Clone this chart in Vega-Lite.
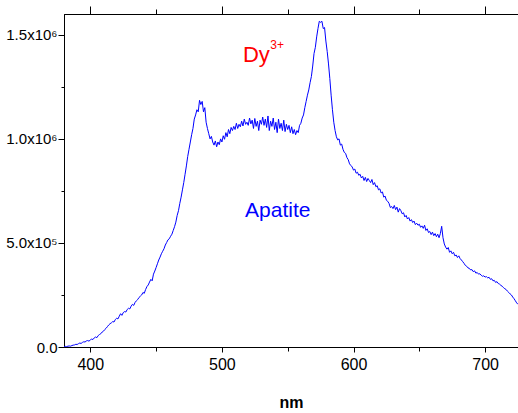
{
  "$schema": "https://vega.github.io/schema/vega-lite/v6.json",
  "width": 454,
  "height": 333,
  "autosize": "none",
  "padding": {"left": 64, "top": 14, "right": 0, "bottom": 66},
  "background": "white",
  "config": {
    "view": {"stroke": "black", "strokeWidth": 1},
    "axis": {
      "labelFont": "Liberation Sans",
      "titleFont": "Liberation Sans",
      "domainColor": "black",
      "tickColor": "black",
      "labelColor": "black",
      "titleColor": "black",
      "grid": false,
      "domainWidth": 1,
      "tickWidth": 1
    }
  },
  "datasets": {
    "spectrum": [
      {"nm":380,"v":1000},{"nm":381,"v":3000},{"nm":382,"v":2000},{"nm":383,"v":4000},{"nm":384,"v":5000},
      {"nm":385,"v":4000},{"nm":386,"v":7000},{"nm":387,"v":9000},{"nm":388,"v":10000},{"nm":389,"v":13000},
      {"nm":390,"v":12000},{"nm":391,"v":16000},{"nm":392,"v":19000},{"nm":393,"v":17000},{"nm":394,"v":22000},
      {"nm":395,"v":25000},{"nm":396,"v":24000},{"nm":397,"v":29000},{"nm":398,"v":31000},{"nm":399,"v":28000},
      {"nm":400,"v":34000},{"nm":401,"v":38000},{"nm":402,"v":36000},{"nm":403,"v":44000},{"nm":404,"v":48000},
      {"nm":405,"v":45000},{"nm":406,"v":55000},{"nm":407,"v":60000},{"nm":408,"v":64000},{"nm":409,"v":72000},
      {"nm":410,"v":76000},{"nm":411,"v":84000},{"nm":412,"v":90000},{"nm":413,"v":98000},{"nm":414,"v":106000},
      {"nm":415,"v":112000},{"nm":416,"v":116000},{"nm":417,"v":122000},{"nm":418,"v":120000},{"nm":419,"v":132000},
      {"nm":420,"v":138000},{"nm":421,"v":135000},{"nm":422,"v":148000},{"nm":423,"v":160000},{"nm":424,"v":152000},
      {"nm":425,"v":165000},{"nm":426,"v":170000},{"nm":427,"v":168000},{"nm":428,"v":180000},{"nm":429,"v":186000},
      {"nm":430,"v":183000},{"nm":431,"v":196000},{"nm":432,"v":205000},{"nm":433,"v":200000},{"nm":434,"v":214000},
      {"nm":435,"v":222000},{"nm":436,"v":228000},{"nm":437,"v":238000},{"nm":438,"v":244000},{"nm":439,"v":250000},
      {"nm":440,"v":262000},{"nm":441,"v":258000},{"nm":442,"v":276000},{"nm":443,"v":290000},{"nm":444,"v":298000},
      {"nm":445,"v":312000},{"nm":446,"v":325000},{"nm":447,"v":318000},{"nm":448,"v":350000},{"nm":449,"v":365000},
      {"nm":450,"v":382000},{"nm":451,"v":400000},{"nm":452,"v":418000},{"nm":453,"v":432000},{"nm":454,"v":448000},
      {"nm":455,"v":460000},{"nm":456,"v":472000},{"nm":457,"v":490000},{"nm":458,"v":502000},{"nm":459,"v":515000},
      {"nm":460,"v":520000},{"nm":461,"v":532000},{"nm":462,"v":542000},{"nm":463,"v":560000},{"nm":464,"v":578000},
      {"nm":465,"v":600000},{"nm":466,"v":632000},{"nm":467,"v":655000},{"nm":468,"v":690000},{"nm":469,"v":720000},
      {"nm":470,"v":755000},{"nm":471,"v":790000},{"nm":472,"v":830000},{"nm":473,"v":870000},{"nm":474,"v":915000},
      {"nm":475,"v":950000},{"nm":476,"v":985000},{"nm":477,"v":1020000},{"nm":478,"v":1050000},{"nm":479,"v":1095000},
      {"nm":480,"v":1115000},{"nm":481,"v":1140000},{"nm":482,"v":1130000},{"nm":483,"v":1185000},{"nm":484,"v":1165000},
      {"nm":485,"v":1180000},{"nm":486,"v":1130000},{"nm":487,"v":1150000},{"nm":488,"v":1080000},{"nm":489,"v":1050000},
      {"nm":490,"v":1025000},{"nm":491,"v":1000000},{"nm":492,"v":1012000},{"nm":493,"v":985000},{"nm":494,"v":970000},
      {"nm":495,"v":990000},{"nm":496,"v":962000},{"nm":497,"v":985000},{"nm":498,"v":972000},{"nm":499,"v":1000000},
      {"nm":500,"v":985000},{"nm":501,"v":1015000},{"nm":502,"v":998000},{"nm":503,"v":1030000},{"nm":504,"v":1010000},
      {"nm":505,"v":1045000},{"nm":506,"v":1025000},{"nm":507,"v":1055000},{"nm":508,"v":1040000},{"nm":509,"v":1060000},
      {"nm":510,"v":1045000},{"nm":511,"v":1075000},{"nm":512,"v":1050000},{"nm":513,"v":1070000},{"nm":514,"v":1058000},
      {"nm":515,"v":1085000},{"nm":516,"v":1062000},{"nm":517,"v":1095000},{"nm":518,"v":1070000},{"nm":519,"v":1080000},
      {"nm":520,"v":1065000},{"nm":521,"v":1100000},{"nm":522,"v":1072000},{"nm":523,"v":1090000},{"nm":524,"v":1050000},
      {"nm":525,"v":1098000},{"nm":526,"v":1060000},{"nm":527,"v":1085000},{"nm":528,"v":1040000},{"nm":529,"v":1090000},
      {"nm":530,"v":1070000},{"nm":531,"v":1105000},{"nm":532,"v":1065000},{"nm":533,"v":1095000},{"nm":534,"v":1055000},
      {"nm":535,"v":1110000},{"nm":536,"v":1040000},{"nm":537,"v":1085000},{"nm":538,"v":1060000},{"nm":539,"v":1100000},
      {"nm":540,"v":1045000},{"nm":541,"v":1080000},{"nm":542,"v":1030000},{"nm":543,"v":1095000},{"nm":544,"v":1050000},
      {"nm":545,"v":1075000},{"nm":546,"v":1040000},{"nm":547,"v":1090000},{"nm":548,"v":1035000},{"nm":549,"v":1070000},
      {"nm":550,"v":1045000},{"nm":551,"v":1065000},{"nm":552,"v":1030000},{"nm":553,"v":1058000},{"nm":554,"v":1025000},
      {"nm":555,"v":1045000},{"nm":556,"v":1020000},{"nm":557,"v":1040000},{"nm":558,"v":1030000},{"nm":559,"v":1065000},
      {"nm":560,"v":1075000},{"nm":561,"v":1100000},{"nm":562,"v":1115000},{"nm":563,"v":1150000},{"nm":564,"v":1180000},
      {"nm":565,"v":1210000},{"nm":566,"v":1235000},{"nm":567,"v":1270000},{"nm":568,"v":1300000},{"nm":569,"v":1350000},
      {"nm":570,"v":1410000},{"nm":571,"v":1440000},{"nm":572,"v":1490000},{"nm":573,"v":1530000},{"nm":574,"v":1565000},
      {"nm":575,"v":1560000},{"nm":576,"v":1565000},{"nm":577,"v":1530000},{"nm":578,"v":1535000},{"nm":579,"v":1470000},
      {"nm":580,"v":1420000},{"nm":581,"v":1360000},{"nm":582,"v":1290000},{"nm":583,"v":1210000},{"nm":584,"v":1140000},
      {"nm":585,"v":1080000},{"nm":586,"v":1040000},{"nm":587,"v":1010000},{"nm":588,"v":995000},{"nm":589,"v":1000000},
      {"nm":590,"v":970000},{"nm":591,"v":975000},{"nm":592,"v":950000},{"nm":593,"v":935000},{"nm":594,"v":930000},
      {"nm":595,"v":910000},{"nm":596,"v":900000},{"nm":597,"v":880000},{"nm":598,"v":872000},{"nm":599,"v":865000},
      {"nm":600,"v":850000},{"nm":601,"v":855000},{"nm":602,"v":835000},{"nm":603,"v":840000},{"nm":604,"v":825000},
      {"nm":605,"v":830000},{"nm":606,"v":812000},{"nm":607,"v":820000},{"nm":608,"v":800000},{"nm":609,"v":815000},
      {"nm":610,"v":795000},{"nm":611,"v":810000},{"nm":612,"v":800000},{"nm":613,"v":790000},{"nm":614,"v":805000},
      {"nm":615,"v":780000},{"nm":616,"v":790000},{"nm":617,"v":770000},{"nm":618,"v":775000},{"nm":619,"v":755000},
      {"nm":620,"v":760000},{"nm":621,"v":740000},{"nm":622,"v":745000},{"nm":623,"v":720000},{"nm":624,"v":725000},
      {"nm":625,"v":705000},{"nm":626,"v":700000},{"nm":627,"v":690000},{"nm":628,"v":670000},{"nm":629,"v":675000},
      {"nm":630,"v":665000},{"nm":631,"v":680000},{"nm":632,"v":660000},{"nm":633,"v":672000},{"nm":634,"v":648000},
      {"nm":635,"v":665000},{"nm":636,"v":655000},{"nm":637,"v":640000},{"nm":638,"v":645000},{"nm":639,"v":625000},
      {"nm":640,"v":632000},{"nm":641,"v":615000},{"nm":642,"v":622000},{"nm":643,"v":605000},{"nm":644,"v":612000},
      {"nm":645,"v":598000},{"nm":646,"v":605000},{"nm":647,"v":588000},{"nm":648,"v":595000},{"nm":649,"v":585000},
      {"nm":650,"v":590000},{"nm":651,"v":575000},{"nm":652,"v":582000},{"nm":653,"v":570000},{"nm":654,"v":585000},
      {"nm":655,"v":560000},{"nm":656,"v":568000},{"nm":657,"v":550000},{"nm":658,"v":555000},{"nm":659,"v":540000},
      {"nm":660,"v":552000},{"nm":661,"v":535000},{"nm":662,"v":545000},{"nm":663,"v":530000},{"nm":664,"v":542000},
      {"nm":665,"v":525000},{"nm":666,"v":545000},{"nm":667,"v":580000},{"nm":668,"v":525000},{"nm":669,"v":495000},
      {"nm":670,"v":480000},{"nm":671,"v":470000},{"nm":672,"v":478000},{"nm":673,"v":455000},{"nm":674,"v":462000},
      {"nm":675,"v":448000},{"nm":676,"v":455000},{"nm":677,"v":438000},{"nm":678,"v":442000},{"nm":679,"v":430000},
      {"nm":680,"v":438000},{"nm":681,"v":425000},{"nm":682,"v":418000},{"nm":683,"v":410000},{"nm":684,"v":402000},
      {"nm":685,"v":392000},{"nm":686,"v":388000},{"nm":687,"v":380000},{"nm":688,"v":378000},{"nm":689,"v":370000},
      {"nm":690,"v":372000},{"nm":691,"v":362000},{"nm":692,"v":366000},{"nm":693,"v":355000},{"nm":694,"v":358000},
      {"nm":695,"v":350000},{"nm":696,"v":352000},{"nm":697,"v":345000},{"nm":698,"v":340000},{"nm":699,"v":342000},
      {"nm":700,"v":336000},{"nm":701,"v":338000},{"nm":702,"v":332000},{"nm":703,"v":335000},{"nm":704,"v":325000},
      {"nm":705,"v":328000},{"nm":706,"v":318000},{"nm":707,"v":320000},{"nm":708,"v":310000},{"nm":709,"v":314000},
      {"nm":710,"v":305000},{"nm":711,"v":302000},{"nm":712,"v":296000},{"nm":713,"v":292000},{"nm":714,"v":285000},
      {"nm":715,"v":280000},{"nm":716,"v":276000},{"nm":717,"v":268000},{"nm":718,"v":262000},{"nm":719,"v":255000},
      {"nm":720,"v":250000},{"nm":721,"v":240000},{"nm":722,"v":232000},{"nm":723,"v":222000},{"nm":724,"v":212000},
      {"nm":725,"v":205000}
    ]
  },
  "layer": [
    {
      "data": {"name": "spectrum"},
      "mark": {"type": "line", "color": "#0000FF", "strokeWidth": 1, "clip": true},
      "encoding": {
        "x": {
          "field": "nm", "type": "quantitative",
          "scale": {"domain": [380, 725], "nice": false, "zero": false},
          "axis": {
            "orient": "bottom",
            "values": [400, 450, 500, 550, 600, 650, 700],
            "labelExpr": "datum.value % 100 === 0 ? datum.label : ''",
            "labelFontSize": 16,
            "labelPadding": 4,
            "tickSize": {"condition": {"test": "datum.value % 100 === 0", "value": 5}, "value": 4},
            "title": "nm",
            "titleFontSize": 16,
            "titleFontWeight": "bold",
            "titlePadding": 22
          }
        },
        "y": {
          "field": "v", "type": "quantitative",
          "scale": {"domain": [0, 1600000], "nice": false},
          "axis": {
            "values": [0, 250000, 500000, 750000, 1000000, 1250000, 1500000],
            "labelExpr": "datum.value == 0 ? '0.0' : datum.value == 500000 ? '5.0x10⁵' : datum.value == 1000000 ? '1.0x10⁶' : datum.value == 1500000 ? '1.5x10⁶' : ''",
            "labelFontSize": 15,
            "labelPadding": 1,
            "labelOverlap": false,
            "tickSize": {"condition": {"test": "datum.value % 500000 === 0", "value": 6}, "value": 3},
            "title": null
          }
        }
      }
    },
    {
      "data": {"values": [{"nm": 400}]},
      "mark": {"type": "rule", "opacity": 0},
      "encoding": {
        "x": {
          "field": "nm", "type": "quantitative",
          "axis": {
            "orient": "top",
            "values": [400, 450, 500, 550, 600, 650, 700],
            "labels": false,
            "tickSize": {"condition": {"test": "datum.value % 100 === 0", "value": 8}, "value": 5},
            "title": null
          }
        }
      }
    },
    {
      "data": {"values": [{"nm": 516, "v": 1369000, "label": "Dy"}]},
      "mark": {"type": "text", "color": "#FF0000", "font": "Liberation Sans", "fontSize": 22, "align": "left", "baseline": "alphabetic"},
      "encoding": {
        "x": {"field": "nm", "type": "quantitative", "axis": null},
        "y": {"field": "v", "type": "quantitative"},
        "text": {"field": "label"}
      }
    },
    {
      "data": {"values": [{"nm": 536.7, "v": 1432000, "label": "3+"}]},
      "mark": {"type": "text", "color": "#FF0000", "font": "Liberation Sans", "fontSize": 12, "align": "left", "baseline": "alphabetic"},
      "encoding": {
        "x": {"field": "nm", "type": "quantitative", "axis": null},
        "y": {"field": "v", "type": "quantitative"},
        "text": {"field": "label"}
      }
    },
    {
      "data": {"values": [{"nm": 517.6, "v": 624600, "label": "Apatite"}]},
      "mark": {"type": "text", "color": "#0000FF", "font": "Liberation Sans", "fontSize": 21, "align": "left", "baseline": "alphabetic"},
      "encoding": {
        "x": {"field": "nm", "type": "quantitative", "axis": null},
        "y": {"field": "v", "type": "quantitative"},
        "text": {"field": "label"}
      }
    }
  ],
  "resolve": {"axis": {"x": "independent"}}
}
